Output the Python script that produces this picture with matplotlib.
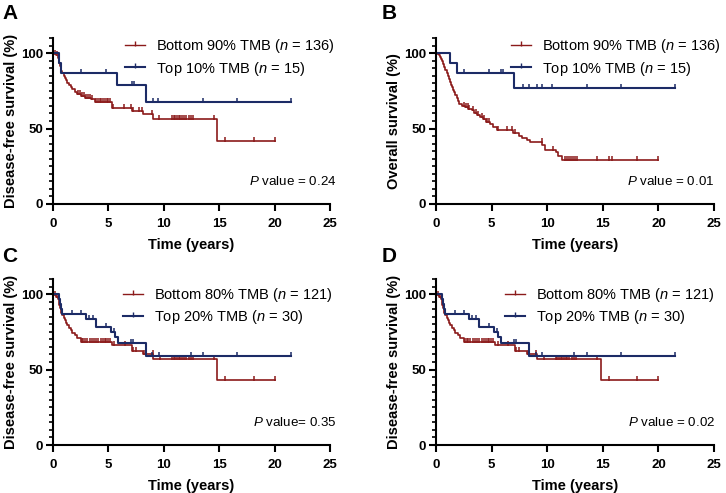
# =========================
# IMPORTS
# =========================
import numpy as np
import matplotlib
matplotlib.use("Agg")
import matplotlib.pyplot as plt
from matplotlib.lines import Line2D
from matplotlib.ticker import MultipleLocator

plt.rcParams["font.family"] = ["Liberation Sans", "DejaVu Sans"]
plt.rcParams["mathtext.fontset"] = "custom"
plt.rcParams["mathtext.rm"] = "Liberation Sans"
plt.rcParams["mathtext.it"] = "Liberation Sans:italic"

# =========================
# DATA
# =========================
# panel A - DFS, bottom 90% vs top 10%
A_bot_t = [0, 0.15, 0.3, 0.42, 0.5, 0.56, 0.62, 0.68, 0.75, 0.85, 0.95, 1.05, 1.15, 1.3,
           1.45, 1.6, 1.75, 1.95, 2.2, 2.5, 2.9, 3.4, 3.8, 5.3, 7.1, 8.15, 9.05, 14.8]
A_bot_s = [100, 99.3, 98.5, 97.0, 95.5, 93.5, 91.5, 89.5, 88.0, 86.5, 85.0, 83.5, 82.0, 80.5,
           79.0, 77.5, 76.0, 74.5, 73.0, 71.5, 70.5, 69.5, 67.7, 63.8, 61.5, 59.5, 56.5, 42.0]
A_bot_c = [0.22, 0.36, 2.3, 2.45, 2.65, 2.8, 3.0, 3.15, 3.3, 3.55, 3.9, 4.05, 4.2, 4.35, 4.5,
           4.7, 4.85, 5.0, 5.15, 5.45, 6.4, 7.0, 7.25, 7.8, 8.05, 8.9, 9.6, 10.75, 10.9, 11.05,
           11.2, 11.35, 11.5, 11.65, 11.8, 12.0, 12.25, 12.45, 12.6, 14.5, 15.55, 18.1, 20.0]
A_top_t = [0, 0.55, 0.7, 5.75, 8.4]
A_top_s = [100, 93.3, 86.7, 78.8, 67.5]
A_top_c = [2.5, 4.8, 7.1, 7.3, 9.05, 9.5, 13.5, 16.6, 21.5]

# panel B - OS, bottom 90% vs top 10%
B_bot_t = [0, 0.1, 0.25, 0.35, 0.45, 0.55, 0.65, 0.75, 0.85, 0.95, 1.05, 1.15, 1.25, 1.35,
           1.45, 1.55, 1.65, 1.75, 1.85, 1.95, 2.1, 2.3, 2.6, 2.9, 3.2, 3.45, 3.7, 3.95, 4.2,
           4.5, 4.85, 5.15, 5.45, 6.95, 7.45, 7.75, 8.2, 8.45, 9.55, 9.8, 10.8, 11.0, 11.3]
B_bot_s = [100, 99.3, 98.5, 97.5, 96.3, 94.8, 92.8, 90.8, 88.8, 86.8, 85.0, 83.0, 81.0, 79.0,
           77.3, 75.8, 74.0, 72.0, 70.0, 68.3, 66.5, 65.0, 64.0, 63.0, 62.0, 60.5, 59.0, 57.5,
           56.0, 54.5, 52.8, 51.3, 49.0, 47.0, 45.3, 43.8, 42.3, 41.0, 39.0, 36.0, 34.5, 31.5, 29.0]
B_bot_c = [2.5, 2.7, 2.85, 3.0, 3.3, 3.6, 3.8, 4.1, 4.35, 4.6, 4.75, 5.6, 6.4, 6.85, 7.1, 9.5,
           10.55, 11.6, 11.8, 12.0, 12.15, 12.3, 12.5, 12.65, 14.5, 15.6, 15.85, 18.05, 20.0]
B_top_t = [0, 1.25, 1.9, 7.0]
B_top_s = [100, 93.3, 86.7, 77.0]
B_top_c = [2.55, 4.75, 5.85, 6.0, 7.8, 8.4, 9.1, 9.5, 10.45, 13.55, 16.65, 21.5]

# panels C and D - DFS, bottom 80% vs top 20%
C_bot_t = [0, 0.15, 0.3, 0.42, 0.5, 0.56, 0.62, 0.68, 0.75, 0.85, 0.95, 1.05, 1.15, 1.3,
           1.45, 1.6, 1.75, 1.95, 2.2, 2.55, 5.3, 7.1, 8.15, 9.05, 14.8]
C_bot_s = [100, 99.2, 98.3, 96.7, 95.0, 93.0, 91.0, 89.3, 87.6, 86.0, 84.3, 82.6, 81.0, 79.3,
           77.7, 76.0, 74.4, 72.8, 71.0, 68.5, 66.0, 62.3, 60.0, 57.3, 43.0]
C_bot_c = [0.22, 0.36, 2.6, 2.75, 2.9, 3.1, 3.3, 3.5, 3.7, 3.9, 4.1, 4.3, 4.5, 4.65, 4.8, 4.95,
           5.1, 5.55, 6.5, 7.2, 7.5, 8.25, 9.0, 9.7, 10.75, 10.9, 11.05, 11.2, 11.35, 11.5,
           11.65, 11.8, 12.0, 12.25, 12.45, 12.6, 14.5, 15.55, 18.1, 20.0]
C_top_t = [0, 0.55, 0.62, 0.7, 0.78, 2.95, 3.9, 5.25, 5.6, 5.85, 8.4]
C_top_s = [100, 96.7, 93.3, 90.0, 86.7, 83.3, 78.2, 74.8, 71.4, 67.7, 59.3]
C_top_c = [1.75, 2.55, 3.25, 3.6, 4.75, 5.5, 7.0, 7.2, 8.95, 9.55, 12.45, 13.55, 16.65, 21.5]

LABELS_90 = ["Bottom 90% TMB ($n$ = 136)", "Top 10% TMB ($n$ = 15)"]
LABELS_80 = ["Bottom 80% TMB ($n$ = 121)", "Top 20% TMB ($n$ = 30)"]
P_TEXTS = ["$P$ value = 0.24", "$P$ value = 0.01", "$P$ value= 0.35", "$P$ value = 0.02"]
YLABELS = ["Disease-free survival (%)", "Overall survival (%)",
           "Disease-free survival (%)", "Disease-free survival (%)"]

# =========================
# STYLE
# =========================
RED = "#8B1A1A"
BLUE = "#1C2B66"
TICK = [(0, -0.2), (0, 1)]   # censor mark, mostly above the line

W, H = 726, 493
AX_POS = {  # pixel boxes: left, top(110%), right, bottom(0%)
    "A": (53, 38, 330, 204),
    "B": (436, 38, 714, 204),
    "C": (53, 279, 330, 445),
    "D": (436, 279, 714, 445),
}
LETTER_POS = {"A": (2, 4), "B": (382, 4), "C": (2, 247), "D": (382, 247)}
LEG_POS = {"A": (0.26, 1.005), "B": (0.27, 1.005), "C": (0.252, 0.958), "D": (0.247, 0.958)}
P_X = {"A": 25.6, "B": 25.05, "C": 25.6, "D": 25.1}


def km(ax, t, s, c, color, lw):
    end = max(max(c), t[-1])
    ax.step(list(t) + [end], list(s) + [s[-1]], where="post", color=color, lw=lw)
    idx = np.searchsorted(t, c, side="right") - 1
    ax.plot(c, np.array(s)[idx], ls="none", marker=TICK, ms=6, mew=1.1,
            color=color, clip_on=False)


def panel(fig, key, bot, top, labels, ptext, ylabel):
    l, tp, r, b = AX_POS[key]
    ax = fig.add_axes([l / W, 1 - b / H, (r - l) / W, (b - tp) / H])
    km(ax, *bot, RED, 1.2)
    km(ax, *top, BLUE, 1.5)

    ax.set_xlim(0, 25)
    ax.set_ylim(0, 110)
    ax.set_xticks([0, 5, 10, 15, 20, 25])
    ax.set_yticks([0, 50, 100])
    ax.yaxis.set_minor_locator(MultipleLocator(5))
    for sp in ["top", "right"]:
        ax.spines[sp].set_visible(False)
    for sp in ["left", "bottom"]:
        ax.spines[sp].set_linewidth(1.5)
    ax.tick_params(which="major", length=5, width=1.5, labelsize=9.5)
    ax.tick_params(axis="x", which="major", pad=5)
    ax.tick_params(axis="y", which="major", pad=2)
    ax.tick_params(which="minor", length=3, width=1.2)
    for lab in ax.get_xticklabels() + ax.get_yticklabels():
        lab.set_fontweight("bold")
    ax.set_xlabel("Time (years)", fontsize=10.5, fontweight="bold", labelpad=6)
    ax.set_ylabel(ylabel, fontsize=10.5, fontweight="bold", labelpad=2)

    handles = [Line2D([], [], color=RED, lw=1.0, marker=TICK, ms=6, mew=1.0),
               Line2D([], [], color=BLUE, lw=1.5, marker=TICK, ms=6, mew=1.0)]
    ax.legend(handles, labels, loc="upper left", bbox_to_anchor=LEG_POS[key],
              frameon=False, fontsize=10.5, borderpad=0, borderaxespad=0,
              handlelength=1.4, handletextpad=0.75, labelspacing=0.3, numpoints=1)

    ax.text(P_X[key], 15, ptext, ha="right", va="center", fontsize=9.6, clip_on=False)

    lx, ly = LETTER_POS[key]
    fig.text(lx / W, 1 - ly / H, key, ha="left", va="top", fontsize=15, fontweight="bold")
    return ax


# =========================
# MAIN
# =========================
def main():
    fig = plt.figure(figsize=(W / 100, H / 100), dpi=100)

    panel(fig, "A", (A_bot_t, A_bot_s, A_bot_c), (A_top_t, A_top_s, A_top_c),
          LABELS_90, P_TEXTS[0], YLABELS[0])
    panel(fig, "B", (B_bot_t, B_bot_s, B_bot_c), (B_top_t, B_top_s, B_top_c),
          LABELS_90, P_TEXTS[1], YLABELS[1])
    panel(fig, "C", (C_bot_t, C_bot_s, C_bot_c), (C_top_t, C_top_s, C_top_c),
          LABELS_80, P_TEXTS[2], YLABELS[2])
    panel(fig, "D", (C_bot_t, C_bot_s, C_bot_c), (C_top_t, C_top_s, C_top_c),
          LABELS_80, P_TEXTS[3], YLABELS[3])

    fig.savefig("out.png", dpi=100)


if __name__ == "__main__":
    main()
